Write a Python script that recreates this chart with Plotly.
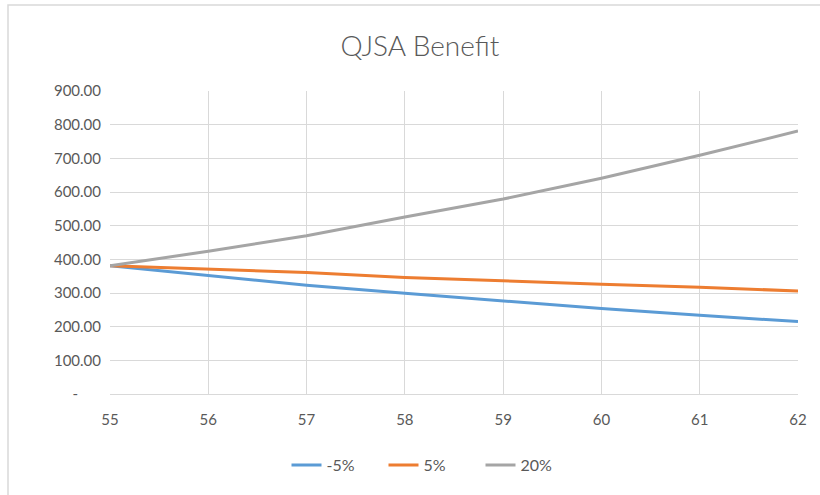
import plotly.graph_objects as go

# Age at benefit commencement
ages = [55, 56, 57, 58, 59, 60, 61, 62]

# QJSA benefit under each assumed rate
minus5 = [381, 351, 323, 299, 276, 254, 234, 215]
plus5 = [381, 371, 361, 346, 335, 326, 317, 306]
plus20 = [381, 424, 470, 526, 579, 641, 709, 781]

series_names = ["-5%", "5%", "20%"]
series_colors = ["#5B9BD5", "#ED7D31", "#A5A5A5"]

y_ticks = [0, 100, 200, 300, 400, 500, 600, 700, 800, 900]
y_labels = ["-\u00a0\u00a0\u00a0\u00a0\u00a0\u00a0"] + [f"{v:.2f}" for v in y_ticks[1:]]

TEXT = "#595959"
GRID = "#D9D9D9"
FONT = "Lato, 'Open Sans', sans-serif"

fig = go.Figure()
for name, vals, col in zip(series_names, [minus5, plus5, plus20], series_colors):
    fig.add_trace(go.Scatter(
        x=ages, y=vals, name=name, mode="lines",
        line=dict(color=col, width=3),
    ))

W, H = 820, 495
L, R, T, B = 110, 22, 91, 101

# outer chart frame (runs off the right and bottom of the page)
pw, ph = W - L - R, H - T - B
fig.add_shape(
    type="rect", xref="paper", yref="paper", layer="below",
    x0=(8 - L) / pw, x1=(W + 20 - L) / pw,
    y0=-(H + 20 - T - ph) / ph, y1=(ph + T - 5) / ph,
    line=dict(color=GRID, width=1.5), fillcolor="rgba(0,0,0,0)",
)

fig.update_layout(
    width=W, height=H,
    margin=dict(l=L, r=R, t=T, b=B),
    paper_bgcolor="white", plot_bgcolor="white",
    font=dict(family=FONT, color=TEXT, size=15),
    title=dict(
        text="QJSA Benefit", x=420 / W, xref="container", xanchor="center",
        y=1 - 46 / H, yanchor="middle",
        font=dict(family=FONT, size=28, color=TEXT, weight=300),
    ),
    showlegend=True,
    legend=dict(
        orientation="h", x=(432 - L) / pw, xref="paper", xanchor="center",
        y=-(465 - T - ph) / ph, yanchor="middle",
        font=dict(size=16, color=TEXT),
        entrywidth=52, entrywidthmode="pixels",
    ),
    xaxis=dict(
        range=[55, 62], tickmode="array", tickvals=ages,
        ticktext=[str(a) for a in ages],
        showgrid=True, gridcolor=GRID, gridwidth=1,
        showline=True, linecolor=GRID, linewidth=1,
        zeroline=False, ticks="", ticklabelstandoff=12,
        tickfont=dict(size=15, color=TEXT),
    ),
    yaxis=dict(
        range=[0, 900], tickmode="array", tickvals=y_ticks, ticktext=y_labels,
        showgrid=True, gridcolor=GRID, gridwidth=1,
        showline=False, zeroline=False, ticks="", ticklabelstandoff=8,
        tickfont=dict(size=15, color=TEXT),
    ),
)

fig.write_html("out.html")
